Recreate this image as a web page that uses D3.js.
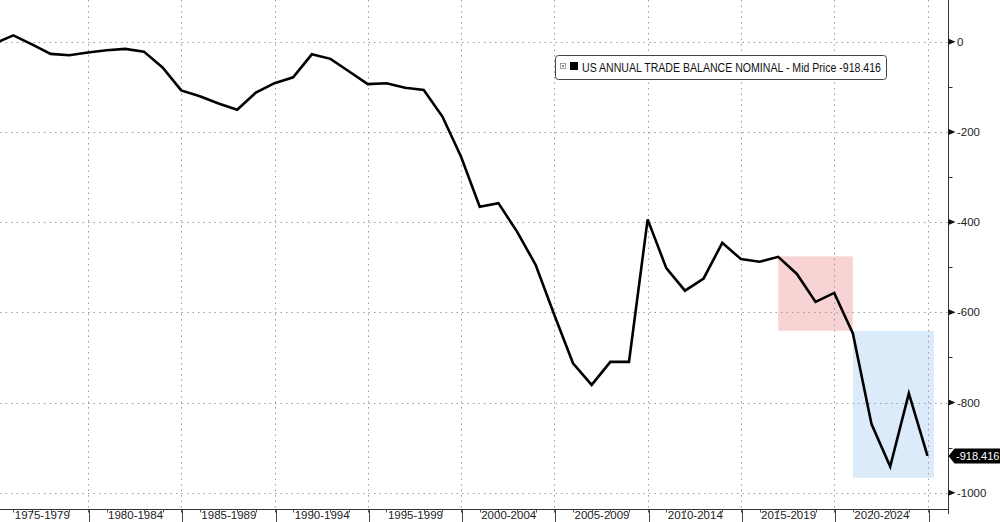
<!DOCTYPE html>
<html>
<head>
<meta charset="utf-8">
<script src="https://cdn.jsdelivr.net/npm/d3@7"></script>
<style>
  html, body { margin: 0; padding: 0; background: #fff; }
  svg { display: block; }
  text { font-family: "Liberation Sans Narrow", "Arial Narrow", "Liberation Sans", Arial, sans-serif; }
</style>
</head>
<body>
<svg id="chart" width="1000" height="522"></svg>
<script>
// ---- data ----
const years = d3.range(1974, 2025);
const balance = [
  -4, 14, -6, -27, -30, -24, -19, -16, -22, -57,
  -108, -121, -137, -151, -113, -92, -79, -28, -38, -66,
  -94, -92, -102, -107, -166, -255, -366, -358, -421, -495,
  -606, -713, -761, -710, -710, -394, -502, -552, -525, -446,
  -482, -488, -477, -515, -577, -557, -647, -848, -942, -780,
  -918.416
];
const yTicks = [0, -200, -400, -600, -800, -1000];
const yMinorTicks = [-100, -300, -500, -700, -900];
const periodEnds = [1979, 1984, 1989, 1994, 1999, 2004, 2009, 2014, 2019, 2024];
const periodLabels = ["1975-1979", "1980-1984", "1985-1989", "1990-1994", "1995-1999",
                      "2000-2004", "2005-2009", "2010-2014", "2015-2019", "2020-2024"];
const seriesName = "US ANNUAL TRADE BALANCE NOMINAL - Mid Price -918.416";
const lastValueLabel = "-918.416";
// highlight boxes in data units: [yearStart, yearEnd, valueTop, valueBottom]
const highlightPink = [2016, 2020, -476, -641];
const highlightBlue = [2020, 2024.35, -641, -967];

// ---- layout ----
const svg = d3.select("#chart");
const axisX = 948.5;
const bottomY = 509.5;

const x = d3.scaleLinear().domain([1975, 2024]).range([13.3, 927.5]);
const y = d3.scaleLinear().domain([0, -1000]).range([41.7, 492.7]);

// highlight boxes
[[highlightPink, "#f8d3d3"], [highlightBlue, "#dbebfa"]].forEach(([b, c]) => {
  svg.append("rect")
    .attr("x", x(b[0])).attr("y", y(b[2]))
    .attr("width", x(b[1]) - x(b[0]))
    .attr("height", y(b[3]) - y(b[2]))
    .attr("fill", c);
});

// grid
const grid = svg.append("g").attr("stroke", "#9a9a9a").attr("stroke-width", 1).attr("stroke-dasharray", "1.5,4");
grid.selectAll("line.h").data(yTicks).join("line")
  .attr("x1", 0).attr("x2", axisX)
  .attr("y1", d => Math.round(y(d)) + 0.5).attr("y2", d => Math.round(y(d)) + 0.5);
grid.selectAll("line.v").data(periodEnds).join("line")
  .attr("x1", d => Math.round(x(d)) + 0.5).attr("x2", d => Math.round(x(d)) + 0.5)
  .attr("y1", 0).attr("y2", bottomY);

// line
const line = d3.line().x((d, i) => x(years[i])).y(d => y(d));
svg.append("path")
  .datum(balance)
  .attr("d", line)
  .attr("fill", "none")
  .attr("stroke", "#000")
  .attr("stroke-width", 2.6)
  .attr("stroke-linejoin", "miter");

// bottom axis
svg.append("line").attr("x1", 0).attr("x2", axisX).attr("y1", bottomY).attr("y2", bottomY)
  .attr("stroke", "#333").attr("stroke-width", 1);
svg.append("g").selectAll("line").data(years.filter(v => v >= 1975)).join("line")
  .attr("x1", d => Math.round(x(d)) + 0.5).attr("x2", d => Math.round(x(d)) + 0.5)
  .attr("y1", bottomY).attr("y2", bottomY + 3)
  .attr("stroke", "#555");
svg.append("g").selectAll("line").data(periodEnds).join("line")
  .attr("x1", d => Math.round(x(d)) + 1.5).attr("x2", d => Math.round(x(d)) + 1.5)
  .attr("y1", bottomY).attr("y2", 522)
  .attr("stroke", "#444");
svg.append("g").selectAll("text").data(periodLabels).join("text")
  .attr("x", (d, i) => x(periodEnds[i] - 2.5) + 1)
  .attr("y", 519.3)
  .attr("text-anchor", "middle")
  .attr("font-size", 11.5)
  .attr("fill", "#222")
  .text(d => d);

// right axis
svg.append("line").attr("x1", axisX).attr("x2", axisX).attr("y1", 0).attr("y2", 514)
  .attr("stroke", "#333").attr("stroke-width", 1);
svg.append("g").selectAll("path").data(yTicks).join("path")
  .attr("d", d => { const yy = y(d); return `M${axisX},${yy - 3}L${axisX + 7},${yy}L${axisX},${yy + 3}Z`; })
  .attr("fill", "#111");
svg.append("g").selectAll("line").data(yMinorTicks).join("line")
  .attr("x1", axisX).attr("x2", axisX + 4)
  .attr("y1", d => Math.round(y(d)) + 0.5).attr("y2", d => Math.round(y(d)) + 0.5)
  .attr("stroke", "#333");
svg.append("g").selectAll("text").data(yTicks).join("text")
  .attr("x", 957).attr("y", d => y(d))
  .attr("dy", "0.35em")
  .attr("font-size", 11.5)
  .attr("fill", "#222")
  .text(d => d);

// last value tag
const ly = y(balance[balance.length - 1]);
svg.append("path")
  .attr("d", `M${axisX},${ly}L${axisX + 6},${ly - 7.5}L1000,${ly - 7.5}L1000,${ly + 7.5}L${axisX + 6},${ly + 7.5}Z`)
  .attr("fill", "#000");
svg.append("text").attr("x", 956).attr("y", ly).attr("dy", "0.35em")
  .attr("font-size", 11).attr("fill", "#fff").text(lastValueLabel);

// legend
const lg = svg.append("g");
lg.append("rect").attr("x", 555.5).attr("y", 55.5).attr("width", 331).attr("height", 24).attr("rx", 3)
  .attr("fill", "#fff").attr("stroke", "#444");
lg.append("rect").attr("x", 560.5).attr("y", 63.5).attr("width", 5).attr("height", 5)
  .attr("fill", "#fff").attr("stroke", "#888").attr("stroke-width", 0.8);
lg.append("rect").attr("x", 562).attr("y", 65).attr("width", 2).attr("height", 2).attr("fill", "#888");
lg.append("rect").attr("x", 570).attr("y", 62).attr("width", 8).attr("height", 8).attr("fill", "#000");
lg.append("text").attr("x", 582).attr("y", 71.5)
  .attr("font-size", 12).attr("fill", "#111")
  .attr("textLength", 299).attr("lengthAdjust", "spacingAndGlyphs")
  .text(seriesName);
</script>
</body>
</html>
